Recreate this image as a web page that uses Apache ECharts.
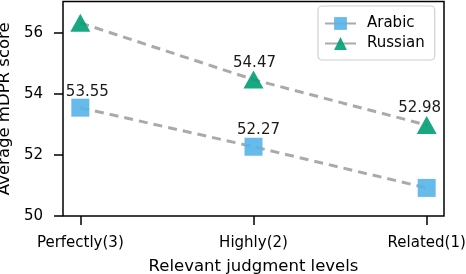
<!DOCTYPE html>
<html><head><meta charset="utf-8">
<script src="https://cdn.jsdelivr.net/npm/echarts@6/dist/echarts.min.js"></script>
<style>html,body{margin:0;padding:0;background:#fff}#c{width:466px;height:274px}</style>
</head><body><div id="c"></div>
<script>
var categories = ['Perfectly(3)', 'Highly(2)', 'Related(1)'];
var arabic = [53.55, 52.27, 50.92];
var russian = [56.33, 54.47, 52.98];
var arabicLabels = [true, true, false];
var russianLabels = [false, true, true];
var yTicks = [50, 52, 54, 56];

var FONT = 'DejaVu Sans';
var labelOffsetsA = [[7, 3], [5, 2], [0, 0]];
var labelOffsetsR = [[0, 0], [1, 2], [-7, 2]];

function build(vals, shows, offs) {
  return vals.map(function (v, i) {
    return {
      value: [i, v],
      label: { show: shows[i], offset: offs[i] }
    };
  });
}

var chart = echarts.init(document.getElementById('c'), null, { renderer: 'canvas' });
chart.setOption({
  animation: false,
  textStyle: { fontFamily: FONT },
  grid: { left: 63, right: 22, top: 1.5, bottom: 58, show: true, borderColor: '#000', borderWidth: 1.5, containLabel: false, outerBoundsMode: 'none' },
  legend: {
    orient: 'vertical', left: 318, top: 6,
    padding: [10, 10, 9, 6], itemGap: 5, itemWidth: 31, itemHeight: 16,
    borderColor: '#d0d0d0', borderWidth: 1.2, borderRadius: 4,
    lineStyle: { type: 'solid' },
    textStyle: { fontFamily: FONT, fontSize: 15, color: '#000', padding: [0, 0, 0, 6] },
    data: ['Arabic', 'Russian']
  },
  xAxis: {
    type: 'value', min: -0.1, max: 2.1,
    name: 'Relevant judgment levels', nameLocation: 'middle', nameGap: 42,
    nameTextStyle: { fontFamily: FONT, fontSize: 16.5, color: '#000' },
    axisLine: { show: false, onZero: false },
    axisTick: { show: true, length: 9, lineStyle: { color: '#000', width: 1.5 }, customValues: [0, 1, 2] },
    axisLabel: { fontFamily: FONT, fontSize: 15, color: '#000', margin: 20, customValues: [0, 1, 2],
      formatter: function (v) { return categories[Math.round(v)]; } },
    splitLine: { show: false }
  },
  yAxis: {
    type: 'value', min: 50, max: 57.03,
    name: 'Average mDPR score', nameLocation: 'middle', nameGap: 43,
    nameTextStyle: { fontFamily: FONT, fontSize: 16.5, color: '#000' },
    axisLine: { show: false, onZero: false },
    axisTick: { show: true, length: 9, lineStyle: { color: '#000', width: 1.5 }, customValues: yTicks },
    axisLabel: { fontFamily: FONT, fontSize: 15, color: '#000', margin: 20, customValues: yTicks },
    splitLine: { show: false }
  },
  series: [
    {
      name: 'Arabic', type: 'line', data: build(arabic, arabicLabels, labelOffsetsA),
      symbol: 'rect', symbolSize: 18,
      lineStyle: { color: '#aaaaaa', width: 3, type: [9, 6] },
      itemStyle: { color: '#56B4E9', opacity: 0.9 },
      label: { position: 'top', distance: 2, fontFamily: FONT, fontSize: 15, color: '#000' },
      z: 2
    },
    {
      name: 'Russian', type: 'line', data: build(russian, russianLabels, labelOffsetsR),
      symbol: 'triangle', symbolSize: [20, 18],
      lineStyle: { color: '#aaaaaa', width: 3, type: [9, 6] },
      itemStyle: { color: '#009E73', opacity: 0.9 },
      label: { position: 'top', distance: 2, fontFamily: FONT, fontSize: 15, color: '#000' },
      z: 2
    }
  ]
});
</script></body></html>
